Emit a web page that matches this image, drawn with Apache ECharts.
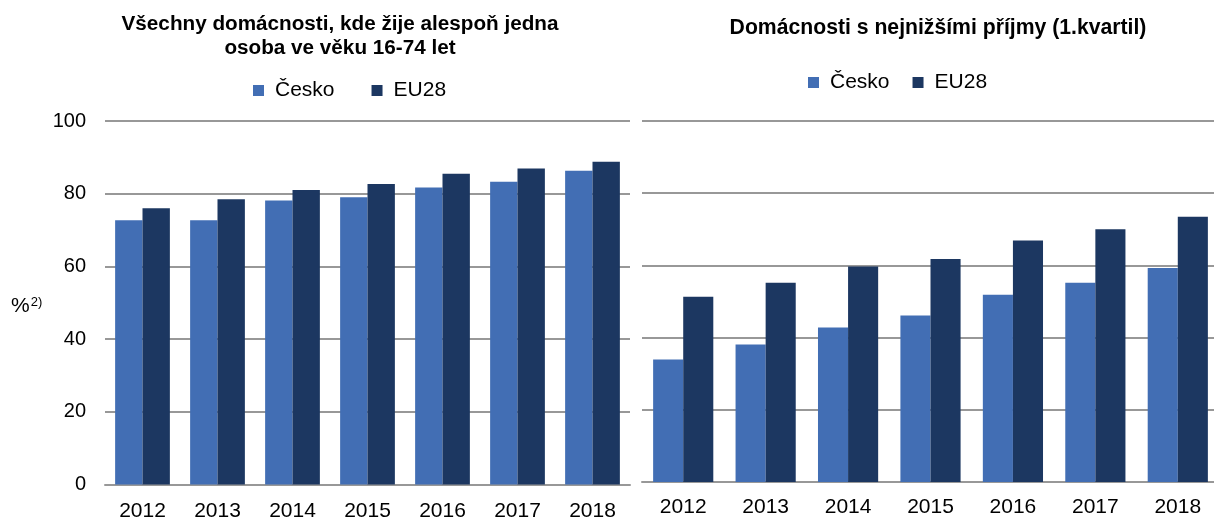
<!DOCTYPE html>
<html>
<head>
<meta charset="utf-8">
<script src="https://cdn.jsdelivr.net/npm/echarts@6/dist/echarts.min.js"></script>
<style>
html,body{margin:0;padding:0;background:#fff;}
#chart{width:1214px;height:518px;}
</style>
</head>
<body>
<div id="chart"></div>
<script>
var years = ['2012','2013','2014','2015','2016','2017','2018'];
var czAll = [72.7, 72.7, 78.1, 79.0, 81.7, 83.3, 86.3];
var euAll = [76.0, 78.5, 81.0, 82.7, 85.5, 86.9, 88.8];
var czLow = [33.9, 38.1, 42.8, 46.1, 51.9, 55.2, 59.3];
var euLow = [51.3, 55.2, 59.7, 61.8, 66.9, 70.0, 73.5];
var titleLeft = 'Všechny domácnosti, kde žije alespoň jedna\nosoba ve věku 16-74 let';
var titleRight = 'Domácnosti s nejnižšími příjmy (1.kvartil)';
var seriesNames = ['Česko', 'EU28'];

var C1 = '#426EB4', C2 = '#1C3761';
var FONT = 'Liberation Sans, Arial, sans-serif';
var gridLine = {lineStyle:{color:'#989898', width:2}};
var legendText = {fontFamily:FONT, fontSize:21, color:'#000', padding:[0,0,0,6]};

var chart = echarts.init(document.getElementById('chart'));
chart.setOption({
  backgroundColor:'#fff',
  animation:false,
  textStyle:{fontFamily:FONT},
  title:[
    {text:titleLeft, left:335, top:7, textAlign:'center',
     textStyle:{fontFamily:FONT, fontSize:20.7, fontWeight:'bold', color:'#000', lineHeight:24}},
    {text:titleRight, left:933, top:13, textAlign:'center',
     textStyle:{fontFamily:FONT, fontSize:21.2, fontWeight:'bold', color:'#000'}},
    {text:'{a|%}{b|2)}', left:6, top:291,
     textStyle:{fontWeight:'normal',
       rich:{a:{fontFamily:FONT,fontSize:21,fontWeight:'normal',color:'#000'},
             b:{fontFamily:FONT,fontSize:13,fontWeight:'normal',color:'#000',verticalAlign:'top',padding:[0,0,6,1]}}}}
  ],
  legend:[
    {data:seriesNames, left:248, top:75, itemWidth:11, itemHeight:11, itemGap:37,
     icon:'rect', textStyle:legendText},
    {data:seriesNames, left:803, top:67, itemWidth:11, itemHeight:11, itemGap:23,
     icon:'rect', textStyle:legendText}
  ],
  grid:[
    {left:105, top:121, width:525, height:363.5, outerBoundsMode:'none', containLabel:false},
    {left:642, top:121, width:577, height:361, outerBoundsMode:'none', containLabel:false}
  ],
  xAxis:[
    {type:'category', gridIndex:0, data:years,
     axisLine:{lineStyle:{color:'#989898', width:2}}, axisTick:{show:false},
     axisLabel:{color:'#000', fontSize:21, fontFamily:FONT, margin:16}},
    {type:'category', gridIndex:1, data:years,
     axisLine:{lineStyle:{color:'#989898', width:2}}, axisTick:{show:false},
     axisLabel:{color:'#000', fontSize:21, fontFamily:FONT, margin:15}}
  ],
  yAxis:[
    {type:'value', gridIndex:0, min:0, max:100, interval:20,
     axisLine:{show:false}, axisTick:{show:false},
     axisLabel:{color:'#000', fontSize:20, fontFamily:FONT, margin:19},
     splitLine:gridLine},
    {type:'value', gridIndex:1, min:0, max:100, interval:20,
     axisLine:{show:false}, axisTick:{show:false}, axisLabel:{show:false},
     splitLine:gridLine}
  ],
  series:[
    {name:seriesNames[0], type:'bar', xAxisIndex:0, yAxisIndex:0, data:czAll,
     itemStyle:{color:C1}, barGap:'0%', barCategoryGap:'27%'},
    {name:seriesNames[1], type:'bar', xAxisIndex:0, yAxisIndex:0, data:euAll,
     itemStyle:{color:C2}, barGap:'0%', barCategoryGap:'27%'},
    {name:seriesNames[0], type:'bar', xAxisIndex:1, yAxisIndex:1, data:czLow,
     itemStyle:{color:C1}, barGap:'0%', barCategoryGap:'27%'},
    {name:seriesNames[1], type:'bar', xAxisIndex:1, yAxisIndex:1, data:euLow,
     itemStyle:{color:C2}, barGap:'0%', barCategoryGap:'27%'}
  ]
});
</script>
</body>
</html>
